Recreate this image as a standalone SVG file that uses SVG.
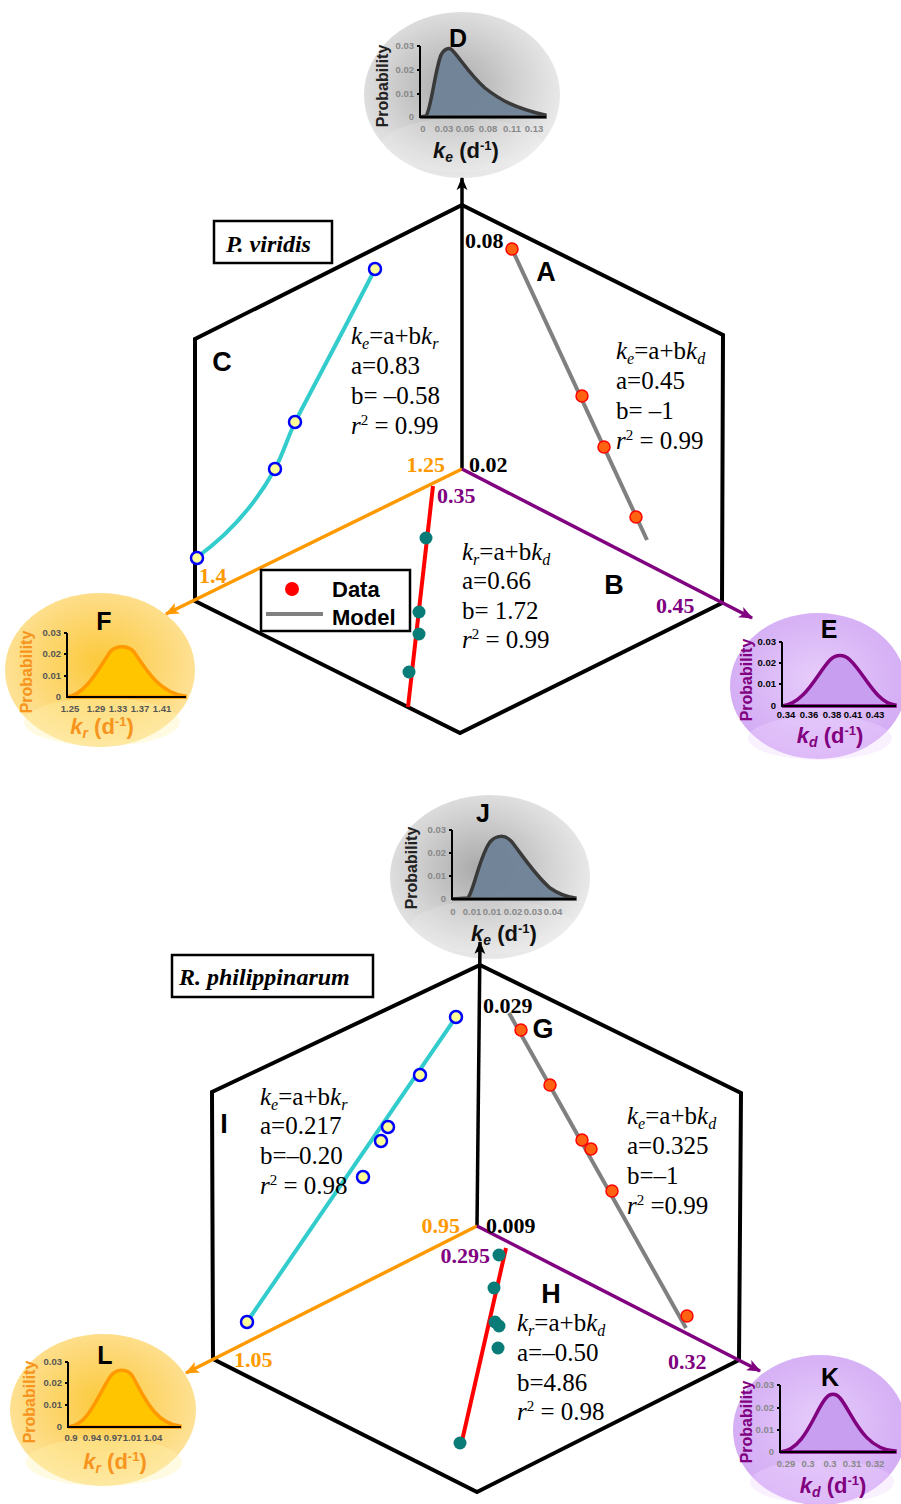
<svg xmlns="http://www.w3.org/2000/svg" width="901" height="1504" viewBox="0 0 901 1504">
<defs>
<radialGradient id="gGray" cx="0.45" cy="0.45" r="0.6"><stop offset="0" stop-color="#a9a9a9"/><stop offset="0.6" stop-color="#d4d4d4"/><stop offset="1" stop-color="#ededed"/></radialGradient>
<radialGradient id="gYel" cx="0.5" cy="0.45" r="0.6"><stop offset="0" stop-color="#fcc93a"/><stop offset="0.6" stop-color="#fdd97a"/><stop offset="1" stop-color="#fee6a4"/></radialGradient>
<radialGradient id="gPur" cx="0.5" cy="0.45" r="0.6"><stop offset="0" stop-color="#e7cdfb"/><stop offset="0.6" stop-color="#d9b6f6"/><stop offset="1" stop-color="#d2a9f4"/></radialGradient>
<marker id="aK" viewBox="0 0 12 12" refX="11" refY="6" markerWidth="13" markerHeight="13" orient="auto" markerUnits="userSpaceOnUse"><path d="M0,1 L12,6 L0,11 L3,6 Z" fill="#000"/></marker>
<marker id="aO" viewBox="0 0 12 12" refX="11" refY="6" markerWidth="14" markerHeight="14" orient="auto" markerUnits="userSpaceOnUse"><path d="M0,1 L12,6 L0,11 L3,6 Z" fill="#ff9900"/></marker>
<marker id="aP" viewBox="0 0 12 12" refX="11" refY="6" markerWidth="14" markerHeight="14" orient="auto" markerUnits="userSpaceOnUse"><path d="M0,1 L12,6 L0,11 L3,6 Z" fill="#800080"/></marker>
</defs>
<style>
.hex{fill:none;stroke:#000;stroke-width:4;stroke-linejoin:miter}
.ax{stroke:#000;stroke-width:3.5;fill:none}
.axO{stroke:#ff9900;stroke-width:3.5;fill:none}
.axP{stroke:#800080;stroke-width:3.5;fill:none}
.cyan{stroke:#33cccc;stroke-width:4;fill:none}
.gray{stroke:#808080;stroke-width:4;fill:none}
.red{stroke:#ff0000;stroke-width:4;fill:none}
.ptR{fill:#ff6210;stroke:#ff0000;stroke-width:1.5}
.ptB{fill:#ffff99;stroke:#0000ff;stroke-width:2.5}
.ptT{fill:#0a7c78}
.eq{font-family:"Liberation Serif",serif;font-size:25px;fill:#000}
.num{font-family:"Liberation Serif",serif;font-size:22px;font-weight:bold}
.let{font-family:"Liberation Sans",Arial,sans-serif;font-size:27px;font-weight:bold;fill:#000}
.sp{font-family:"Liberation Serif",serif;font-size:24px;font-weight:bold;font-style:italic}
.leg{font-family:"Liberation Sans",Arial,sans-serif;font-size:22px;font-weight:bold}
.tk{font-family:"Liberation Sans",Arial,sans-serif;font-size:9.5px;font-weight:bold}
.prob{font-family:"Liberation Sans",Arial,sans-serif;font-size:16px;font-weight:bold}
.ttl{font-family:"Liberation Sans",Arial,sans-serif;font-size:22px;font-weight:bold}
.cl{font-family:"Liberation Sans",Arial,sans-serif;font-size:25px;font-weight:bold;fill:#000}
.chax{stroke:#000;stroke-width:2;fill:none}
</style>
<rect width="901" height="1504" fill="#fff"/>

<!-- ===== Distribution bubbles ===== -->
<g id="bubble-D">
<ellipse cx="462" cy="95" rx="98" ry="83" fill="url(#gGray)"/>
<ellipse cx="462" cy="145" rx="80" ry="27" fill="#fff" opacity="0.15"/>
<path d="M420,117 L426,116 C431,110 435,70 441,55 C444,49 449,47 452,50 C460,58 470,75 485,88 C500,100 515,108 545,115 L545,117 Z" fill="#6f8296" stroke="#333" stroke-width="3.5" opacity="0.95"/>
<path class="chax" d="M420,46 L420,117 L546,117 M417,46 L420,46 M417,70 L420,70 M417,94 L420,94"/>
<g class="tk" fill="#888"><text x="414" y="49" text-anchor="end">0.03</text><text x="414" y="73" text-anchor="end">0.02</text><text x="414" y="97" text-anchor="end">0.01</text><text x="414" y="120" text-anchor="end">0</text>
<text x="423" y="132" text-anchor="middle">0</text><text x="444" y="132" text-anchor="middle">0.03</text><text x="465" y="132" text-anchor="middle">0.05</text><text x="488" y="132" text-anchor="middle">0.08</text><text x="512" y="132" text-anchor="middle">0.11</text><text x="534" y="132" text-anchor="middle">0.13</text></g>
<text class="prob" fill="#222" transform="translate(388,86) rotate(-90)" text-anchor="middle">Probability</text>
<text class="cl" x="458" y="47" text-anchor="middle">D</text>
<text class="ttl" x="466" y="158" text-anchor="middle" fill="#111"><tspan font-style="italic">k</tspan><tspan font-size="14" font-style="italic" dy="4">e</tspan><tspan dy="-4"> (d</tspan><tspan font-size="13" dy="-8">-1</tspan><tspan dy="8">)</tspan></text>
</g>

<g id="bubble-F">
<ellipse cx="100" cy="670" rx="95" ry="77" fill="url(#gYel)"/>
<ellipse cx="102" cy="722" rx="78" ry="24" fill="#fff3b0" opacity="0.35"/>
<path d="M67,697 C85,695 98,670 110,652 C116,645 128,645 134,652 C146,670 160,693 185,696 L185,697 Z" fill="#ffc600" stroke="#ff9900" stroke-width="3.5"/>
<path class="chax" d="M67,633 L67,697 L186,697 M64,633 L67,633 M64,654 L67,654 M64,676 L67,676"/>
<g class="tk" fill="#555"><text x="61" y="636" text-anchor="end">0.03</text><text x="61" y="657" text-anchor="end">0.02</text><text x="61" y="679" text-anchor="end">0.01</text><text x="61" y="700" text-anchor="end">0</text>
<text x="70" y="712" text-anchor="middle">1.25</text><text x="96" y="712" text-anchor="middle">1.29</text><text x="118" y="712" text-anchor="middle">1.33</text><text x="140" y="712" text-anchor="middle">1.37</text><text x="162" y="712" text-anchor="middle">1.41</text></g>
<text class="prob" fill="#f7941d" transform="translate(32,672) rotate(-90)" text-anchor="middle">Probability</text>
<text class="cl" x="104" y="630" text-anchor="middle">F</text>
<text class="ttl" x="102" y="734" text-anchor="middle" fill="#f7941d"><tspan font-style="italic">k</tspan><tspan font-size="14" font-style="italic" dy="4">r</tspan><tspan dy="-4"> (d</tspan><tspan font-size="13" dy="-8">-1</tspan><tspan dy="8">)</tspan></text>
</g>

<g id="bubble-E">
<ellipse cx="818" cy="686" rx="88" ry="73" fill="url(#gPur)"/>
<ellipse cx="820" cy="738" rx="72" ry="22" fill="#f0d8ff" opacity="0.35"/>
<path d="M782,706 C805,704 818,672 830,660 C836,654 844,654 850,660 C864,673 876,703 895,705 L895,706 Z" fill="#c79ef0" stroke="#800080" stroke-width="3.5"/>
<path class="chax" d="M782,642 L782,706 L896,706 M779,642 L782,642 M779,663 L782,663 M779,684 L782,684"/>
<g class="tk" fill="#000"><text x="776" y="645" text-anchor="end">0.03</text><text x="776" y="666" text-anchor="end">0.02</text><text x="776" y="687" text-anchor="end">0.01</text><text x="776" y="709" text-anchor="end">0</text>
<text x="786" y="718" text-anchor="middle">0.34</text><text x="809" y="718" text-anchor="middle">0.36</text><text x="832" y="718" text-anchor="middle">0.38</text><text x="853" y="718" text-anchor="middle">0.41</text><text x="875" y="718" text-anchor="middle">0.43</text></g>
<text class="prob" fill="#800080" transform="translate(752,680) rotate(-90)" text-anchor="middle">Probability</text>
<text class="cl" x="829" y="638" text-anchor="middle">E</text>
<text class="ttl" x="830" y="743" text-anchor="middle" fill="#800080"><tspan font-style="italic">k</tspan><tspan font-size="14" font-style="italic" dy="4">d</tspan><tspan dy="-4"> (d</tspan><tspan font-size="13" dy="-8">-1</tspan><tspan dy="8">)</tspan></text>
</g>

<g id="bubble-J">
<ellipse cx="490" cy="877" rx="100" ry="82" fill="url(#gGray)"/>
<ellipse cx="492" cy="927" rx="82" ry="27" fill="#fff" opacity="0.15"/>
<path d="M452,899 L468,898 C474,890 480,855 490,842 C496,835 505,834 512,842 C522,855 535,875 550,888 C560,895 568,897 575,898 L575,899 Z" fill="#6f8296" stroke="#333" stroke-width="3.5" opacity="0.95"/>
<path class="chax" d="M452,830 L452,899 L576,899 M449,830 L452,830 M449,853 L452,853 M449,876 L452,876"/>
<g class="tk" fill="#888"><text x="446" y="833" text-anchor="end">0.03</text><text x="446" y="856" text-anchor="end">0.02</text><text x="446" y="879" text-anchor="end">0.01</text><text x="446" y="902" text-anchor="end">0</text>
<text x="453" y="915" text-anchor="middle">0</text><text x="472" y="915" text-anchor="middle">0.01</text><text x="492" y="915" text-anchor="middle">0.01</text><text x="513" y="915" text-anchor="middle">0.02</text><text x="533" y="915" text-anchor="middle">0.03</text><text x="553" y="915" text-anchor="middle">0.04</text></g>
<text class="prob" fill="#222" transform="translate(417,868) rotate(-90)" text-anchor="middle">Probability</text>
<text class="cl" x="483" y="822" text-anchor="middle">J</text>
<text class="ttl" x="504" y="941" text-anchor="middle" fill="#111"><tspan font-style="italic">k</tspan><tspan font-size="14" font-style="italic" dy="4">e</tspan><tspan dy="-4"> (d</tspan><tspan font-size="13" dy="-8">-1</tspan><tspan dy="8">)</tspan></text>
</g>

<g id="bubble-L">
<ellipse cx="103" cy="1410" rx="93" ry="76" fill="url(#gYel)"/>
<ellipse cx="104" cy="1462" rx="78" ry="24" fill="#fff3b0" opacity="0.35"/>
<path d="M68,1427 C88,1426 98,1395 110,1377 C116,1368 128,1368 133,1377 C143,1395 155,1424 180,1426 L180,1427 Z" fill="#ffc600" stroke="#ff9900" stroke-width="3.5"/>
<path class="chax" d="M68,1362 L68,1427 L181,1427 M65,1362 L68,1362 M65,1383 L68,1383 M65,1405 L68,1405"/>
<g class="tk" fill="#555"><text x="62" y="1365" text-anchor="end">0.03</text><text x="62" y="1386" text-anchor="end">0.02</text><text x="62" y="1408" text-anchor="end">0.01</text><text x="62" y="1430" text-anchor="end">0</text>
<text x="71" y="1441" text-anchor="middle">0.9</text><text x="92" y="1441" text-anchor="middle">0.94</text><text x="113" y="1441" text-anchor="middle">0.97</text><text x="132" y="1441" text-anchor="middle">1.01</text><text x="153" y="1441" text-anchor="middle">1.04</text></g>
<text class="prob" fill="#f7941d" transform="translate(35,1402) rotate(-90)" text-anchor="middle">Probability</text>
<text class="cl" x="105" y="1364" text-anchor="middle">L</text>
<text class="ttl" x="115" y="1469" text-anchor="middle" fill="#f7941d"><tspan font-style="italic">k</tspan><tspan font-size="14" font-style="italic" dy="4">r</tspan><tspan dy="-4"> (d</tspan><tspan font-size="13" dy="-8">-1</tspan><tspan dy="8">)</tspan></text>
</g>

<g id="bubble-K">
<ellipse cx="820" cy="1430" rx="87" ry="75" fill="url(#gPur)"/>
<ellipse cx="822" cy="1482" rx="72" ry="22" fill="#f0d8ff" opacity="0.35"/>
<path d="M780,1452 C805,1450 815,1410 826,1398 C830,1393 836,1393 840,1398 C852,1412 862,1449 895,1451 L895,1452 Z" fill="#c79ef0" stroke="#800080" stroke-width="3.5"/>
<path class="chax" d="M780,1385 L780,1452 L896,1452 M777,1385 L780,1385 M777,1408 L780,1408 M777,1430 L780,1430"/>
<g class="tk" fill="#888"><text x="774" y="1388" text-anchor="end">0.03</text><text x="774" y="1411" text-anchor="end">0.02</text><text x="774" y="1433" text-anchor="end">0.01</text><text x="774" y="1455" text-anchor="end">0</text>
<text x="786" y="1467" text-anchor="middle">0.29</text><text x="808" y="1467" text-anchor="middle">0.3</text><text x="830" y="1467" text-anchor="middle">0.3</text><text x="852" y="1467" text-anchor="middle">0.31</text><text x="875" y="1467" text-anchor="middle">0.32</text></g>
<text class="prob" fill="#800080" transform="translate(752,1422) rotate(-90)" text-anchor="middle">Probability</text>
<text class="cl" x="830" y="1386" text-anchor="middle">K</text>
<text class="ttl" x="833" y="1493" text-anchor="middle" fill="#800080"><tspan font-style="italic">k</tspan><tspan font-size="14" font-style="italic" dy="4">d</tspan><tspan dy="-4"> (d</tspan><tspan font-size="13" dy="-8">-1</tspan><tspan dy="8">)</tspan></text>
</g>

<!-- ===== Top hexagon: P. viridis ===== -->
<g id="hex-top">
<polygon class="hex" points="462,205 723,335 722,603 460,733 195,601 195,339"/>
</g>
<g id="connectors-top">
<line class="ax" x1="462" y1="469" x2="462" y2="178" marker-end="url(#aK)"/>
<line class="axO" x1="462" y1="469" x2="166" y2="614" marker-end="url(#aO)"/>
<line class="axP" x1="462" y1="469" x2="752" y2="618" marker-end="url(#aP)"/>
<line class="gray" x1="512" y1="249" x2="647" y2="540"/>
<path class="cyan" d="M375,269 C348,322 318,378 295,422 C288,437 283,454 275,469 C255,505 228,535 196,558"/>
<line class="red" x1="433" y1="486" x2="408" y2="707"/>
</g>
<g id="data-top">
<circle class="ptR" cx="512" cy="249" r="6"/>
<circle class="ptR" cx="582" cy="396" r="6"/>
<circle class="ptR" cx="604" cy="447" r="6"/>
<circle class="ptR" cx="636" cy="517" r="6"/>
<circle class="ptB" cx="375" cy="269" r="6"/>
<circle class="ptB" cx="295" cy="422" r="6"/>
<circle class="ptB" cx="275" cy="469" r="6"/>
<circle class="ptB" cx="197" cy="558" r="6"/>
<circle class="ptT" cx="426" cy="538" r="6.5"/>
<circle class="ptT" cx="419" cy="612" r="6.5"/>
<circle class="ptT" cx="419" cy="634" r="6.5"/>
<circle class="ptT" cx="409" cy="672" r="6.5"/>
</g>
<g id="labels-top">
<rect x="214" y="221" width="118" height="42" fill="#fff" stroke="#000" stroke-width="2.5"/>
<text class="sp" x="226" y="252">P. viridis</text>
<text class="num" x="465" y="248" fill="#000">0.08</text>
<text class="let" x="546" y="281" text-anchor="middle">A</text>
<text class="let" x="222" y="371" text-anchor="middle">C</text>
<text class="let" x="614" y="594" text-anchor="middle">B</text>
<text class="num" x="445" y="472" fill="#ff9900" text-anchor="end">1.25</text>
<text class="num" x="469" y="472" fill="#000">0.02</text>
<text class="num" x="437" y="503" fill="#800080">0.35</text>
<text class="num" x="199" y="583" fill="#ff9900">1.4</text>
<text class="num" x="656" y="613" fill="#800080">0.45</text>
<g class="eq">
<text x="351" y="344"><tspan font-style="italic">k</tspan><tspan font-style="italic" font-size="16" dy="5">e</tspan><tspan dy="-5">=a+b</tspan><tspan font-style="italic">k</tspan><tspan font-style="italic" font-size="16" dy="5">r</tspan></text>
<text x="351" y="374">a=0.83</text>
<text x="351" y="404">b= –0.58</text>
<text x="351" y="434"><tspan font-style="italic">r</tspan><tspan font-size="15" dy="-9">2</tspan><tspan dy="9"> = 0.99</tspan></text>
<text x="616" y="359"><tspan font-style="italic">k</tspan><tspan font-style="italic" font-size="16" dy="5">e</tspan><tspan dy="-5">=a+b</tspan><tspan font-style="italic">k</tspan><tspan font-style="italic" font-size="16" dy="5">d</tspan></text>
<text x="616" y="389">a=0.45</text>
<text x="616" y="419">b= –1</text>
<text x="616" y="449"><tspan font-style="italic">r</tspan><tspan font-size="15" dy="-9">2</tspan><tspan dy="9"> = 0.99</tspan></text>
<text x="462" y="560"><tspan font-style="italic">k</tspan><tspan font-style="italic" font-size="16" dy="5">r</tspan><tspan dy="-5">=a+b</tspan><tspan font-style="italic">k</tspan><tspan font-style="italic" font-size="16" dy="5">d</tspan></text>
<text x="462" y="589">a=0.66</text>
<text x="462" y="619">b= 1.72</text>
<text x="462" y="648"><tspan font-style="italic">r</tspan><tspan font-size="15" dy="-9">2</tspan><tspan dy="9"> = 0.99</tspan></text>
</g>
</g>
<g id="legend">
<rect x="261" y="570" width="149" height="61" fill="#fff" stroke="#000" stroke-width="2.5"/>
<circle cx="292" cy="589" r="7" fill="#ff0000"/>
<line x1="266" y1="614" x2="323" y2="614" stroke="#808080" stroke-width="4"/>
<text class="leg" x="332" y="597">Data</text>
<text class="leg" x="332" y="625">Model</text>
</g>

<!-- ===== Bottom hexagon: R. philippinarum ===== -->
<g id="hex-bottom">
<polygon class="hex" points="480,965 741,1093 739,1360 477,1492 213,1359 212,1092"/>
</g>
<g id="connectors-bottom">
<line class="ax" x1="477" y1="1226" x2="480" y2="942" marker-end="url(#aK)"/>
<line class="axO" x1="477" y1="1226" x2="186" y2="1373" marker-end="url(#aO)"/>
<line class="axP" x1="477" y1="1226" x2="760" y2="1371" marker-end="url(#aP)"/>
<line class="gray" x1="509" y1="1013" x2="686" y2="1328"/>
<line class="cyan" x1="456" y1="1017" x2="247" y2="1322"/>
<line class="red" x1="506" y1="1248" x2="462" y2="1441"/>
</g>
<g id="data-bottom">
<circle class="ptR" cx="521" cy="1030" r="6"/>
<circle class="ptR" cx="550" cy="1085" r="6"/>
<circle class="ptR" cx="582" cy="1140" r="6"/>
<circle class="ptR" cx="591" cy="1149" r="6"/>
<circle class="ptR" cx="612" cy="1191" r="6"/>
<circle class="ptR" cx="687" cy="1316" r="6"/>
<circle class="ptB" cx="456" cy="1017" r="6"/>
<circle class="ptB" cx="420" cy="1075" r="6"/>
<circle class="ptB" cx="388" cy="1127" r="6"/>
<circle class="ptB" cx="381" cy="1141" r="6"/>
<circle class="ptB" cx="363" cy="1177" r="6"/>
<circle class="ptB" cx="247" cy="1322" r="6"/>
<circle class="ptT" cx="499" cy="1255" r="6.5"/>
<circle class="ptT" cx="494" cy="1288" r="6.5"/>
<circle class="ptT" cx="495" cy="1322" r="6.5"/>
<circle class="ptT" cx="499" cy="1326" r="6.5"/>
<circle class="ptT" cx="498" cy="1348" r="6.5"/>
<circle class="ptT" cx="460" cy="1443" r="6.5"/>
</g>
<g id="labels-bottom">
<rect x="172" y="955" width="201" height="42" fill="#fff" stroke="#000" stroke-width="2.5"/>
<text class="sp" x="179" y="985">R. philippinarum</text>
<text class="num" x="483" y="1013" fill="#000">0.029</text>
<text class="let" x="543" y="1038" text-anchor="middle">G</text>
<text class="let" x="224" y="1133" text-anchor="middle">I</text>
<text class="let" x="551" y="1303" text-anchor="middle">H</text>
<text class="num" x="460" y="1233" fill="#ff9900" text-anchor="end">0.95</text>
<text class="num" x="486" y="1233" fill="#000">0.009</text>
<text class="num" x="490" y="1263" fill="#800080" text-anchor="end">0.295</text>
<text class="num" x="234" y="1367" fill="#ff9900">1.05</text>
<text class="num" x="668" y="1369" fill="#800080">0.32</text>
<g class="eq">
<text x="260" y="1105"><tspan font-style="italic">k</tspan><tspan font-style="italic" font-size="16" dy="5">e</tspan><tspan dy="-5">=a+b</tspan><tspan font-style="italic">k</tspan><tspan font-style="italic" font-size="16" dy="5">r</tspan></text>
<text x="260" y="1134">a=0.217</text>
<text x="260" y="1164">b=–0.20</text>
<text x="260" y="1194"><tspan font-style="italic">r</tspan><tspan font-size="15" dy="-9">2</tspan><tspan dy="9"> = 0.98</tspan></text>
<text x="627" y="1124"><tspan font-style="italic">k</tspan><tspan font-style="italic" font-size="16" dy="5">e</tspan><tspan dy="-5">=a+b</tspan><tspan font-style="italic">k</tspan><tspan font-style="italic" font-size="16" dy="5">d</tspan></text>
<text x="627" y="1154">a=0.325</text>
<text x="627" y="1184">b=–1</text>
<text x="627" y="1214"><tspan font-style="italic">r</tspan><tspan font-size="15" dy="-9">2</tspan><tspan dy="9"> =0.99</tspan></text>
<text x="517" y="1331"><tspan font-style="italic">k</tspan><tspan font-style="italic" font-size="16" dy="5">r</tspan><tspan dy="-5">=a+b</tspan><tspan font-style="italic">k</tspan><tspan font-style="italic" font-size="16" dy="5">d</tspan></text>
<text x="517" y="1361">a=–0.50</text>
<text x="517" y="1391">b=4.86</text>
<text x="517" y="1420"><tspan font-style="italic">r</tspan><tspan font-size="15" dy="-9">2</tspan><tspan dy="9"> = 0.98</tspan></text>
</g>
</g>
</svg>
